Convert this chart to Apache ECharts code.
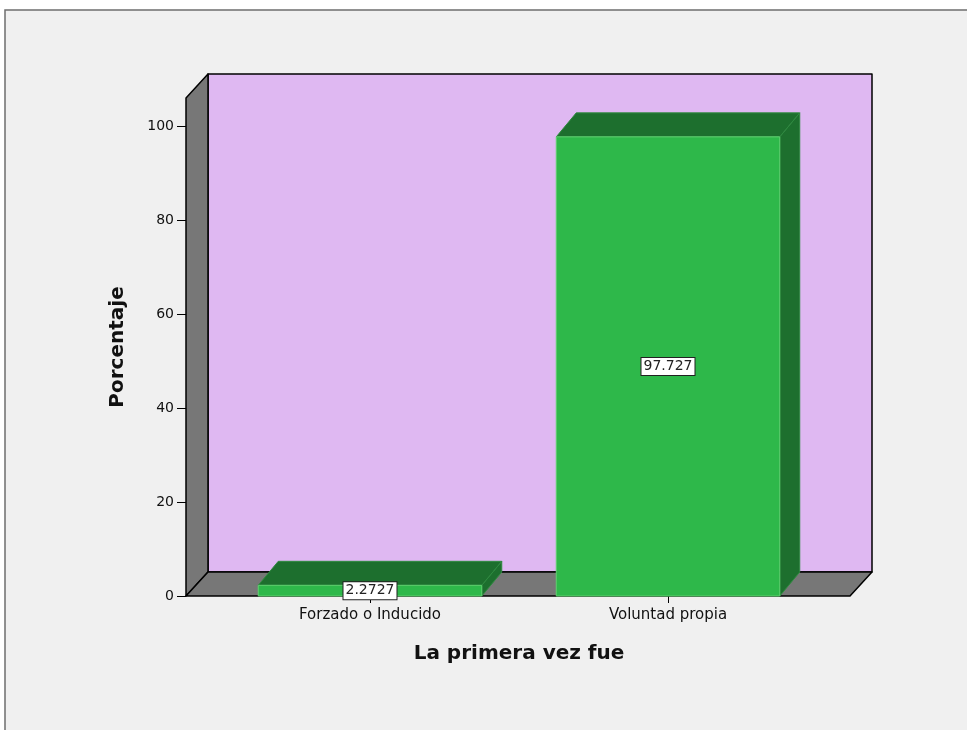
<!DOCTYPE html>
<html>
<head>
<meta charset="utf-8">
<title>La primera vez fue</title>
<script src="https://cdn.jsdelivr.net/npm/echarts@6/dist/echarts.min.js"></script>
<style>
  html, body { margin: 0; padding: 0; background: #fff; }
  #chart { width: 967px; height: 730px; }
</style>
</head>
<body>
<div id="chart"></div>
<script>
const categories = ['Forzado o Inducido', 'Voluntad propia']
const percentages = [2.2727, 97.727]
const yTicks = [0, 20, 40, 60, 80, 100]
const yMax = 106

// depth of the fake 3D walls and bars
const WALL_DX = 22
const WALL_DY = 24
const BAR_DX = 20
const BAR_DY = 24

const chart = echarts.init(document.getElementById('chart'))

const renderFrame = (params, api) => {
  const cs = params.coordSys
  const left = cs.x - 35
  const right = cs.x + cs.width + 33
  const top = api.coord([0, yMax])[1]
  const floor = api.coord([0, 0])[1]
  const line = { stroke: '#000', lineWidth: 1.5, lineJoin: 'round' }
  return {
    type: 'group',
    children: [
      {
        type: 'rect',
        shape: { x: left + WALL_DX, y: top - WALL_DY, width: right - left, height: floor - top },
        style: Object.assign({ fill: '#dfb8f2' }, line)
      },
      {
        type: 'polygon',
        shape: { points: [[left, top], [left + WALL_DX, top - WALL_DY], [left + WALL_DX, floor - WALL_DY], [left, floor]] },
        style: Object.assign({ fill: '#777777' }, line)
      },
      {
        type: 'polygon',
        shape: { points: [[left, floor], [left + WALL_DX, floor - WALL_DY], [right + WALL_DX, floor - WALL_DY], [right, floor]] },
        style: Object.assign({ fill: '#777777' }, line)
      }
    ]
  }
}

const renderBar = (params, api) => {
  const idx = api.value(0)
  const val = api.value(1)
  const topPt = api.coord([idx, val])
  const basePt = api.coord([idx, 0])
  const w = api.size([1, 0])[0] * 0.75
  const x0 = topPt[0] - w / 2
  const x1 = topPt[0] + w / 2
  const y0 = basePt[1]
  const y1 = topPt[1]
  const edge = { stroke: '#5fd06f', lineWidth: 1 }
  return {
    type: 'group',
    children: [
      {
        type: 'polygon',
        shape: { points: [[x1, y0], [x1 + BAR_DX, y0 - BAR_DY], [x1 + BAR_DX, y1 - BAR_DY], [x1, y1]] },
        style: { fill: '#1d6f2e', stroke: '#2f8a40', lineWidth: 1 }
      },
      {
        type: 'polygon',
        shape: { points: [[x0, y1], [x0 + BAR_DX, y1 - BAR_DY], [x1 + BAR_DX, y1 - BAR_DY], [x1, y1]] },
        style: { fill: '#1d6f2e', stroke: '#2f8a40', lineWidth: 1 }
      },
      {
        type: 'rect',
        shape: { x: x0, y: y1, width: w, height: y0 - y1 },
        style: Object.assign({ fill: '#2eb84a' }, edge)
      },
      {
        type: 'text',
        x: topPt[0],
        y: (y0 + y1) / 2,
        z2: 10,
        style: {
          text: String(val),
          align: 'center',
          verticalAlign: 'middle',
          fontFamily: 'DejaVu Sans',
          fontSize: 14,
          fill: '#222',
          backgroundColor: '#fff',
          borderColor: '#222',
          borderWidth: 1,
          padding: [2, 2, 1, 2]
        }
      }
    ]
  }
}

const option = {
  backgroundColor: '#ffffff',
  animation: false,
  graphic: [
    {
      type: 'rect',
      z: -10,
      shape: { x: 5, y: 10, width: 1000, height: 1000 },
      style: { fill: '#f0f0f0', stroke: '#6e6e6e', lineWidth: 1.5 }
    }
  ],
  grid: {
    left: 221,
    right: 150,
    top: 98,
    bottom: 134
  },
  xAxis: {
    type: 'category',
    data: categories,
    name: 'La primera vez fue',
    nameLocation: 'middle',
    nameGap: 48,
    nameTextStyle: {
      fontFamily: 'DejaVu Sans',
      fontSize: 20,
      fontWeight: 'bold',
      color: '#111'
    },
    axisLine: { show: false },
    axisTick: {
      show: true,
      alignWithLabel: true,
      length: 7,
      lineStyle: { color: '#000' }
    },
    axisLabel: {
      margin: 12,
      fontFamily: 'DejaVu Sans',
      fontSize: 15,
      color: '#111'
    }
  },
  yAxis: {
    type: 'value',
    min: 0,
    max: yMax,
    offset: 35,
    name: 'Porcentaje',
    nameLocation: 'middle',
    nameGap: 58,
    nameTextStyle: {
      fontFamily: 'DejaVu Sans',
      fontSize: 20,
      fontWeight: 'bold',
      color: '#111'
    },
    axisLine: { show: false },
    axisTick: {
      show: true,
      length: 9,
      customValues: yTicks,
      lineStyle: { color: '#000' }
    },
    axisLabel: {
      margin: 12,
      customValues: yTicks,
      fontFamily: 'DejaVu Sans',
      fontSize: 14,
      color: '#111'
    },
    splitLine: { show: false }
  },
  series: [
    {
      type: 'custom',
      z: 1,
      clip: false,
      silent: true,
      renderItem: renderFrame,
      data: [[0, 0]]
    },
    {
      type: 'custom',
      z: 2,
      clip: false,
      renderItem: renderBar,
      data: percentages.map((v, i) => [i, v])
    }
  ]
}

chart.setOption(option)
</script>
</body>
</html>
